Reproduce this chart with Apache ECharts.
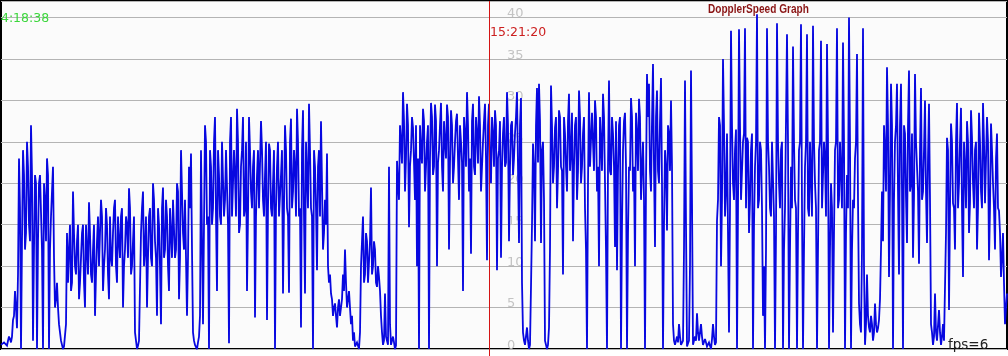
<!DOCTYPE html>
<html>
<head>
<meta charset="utf-8">
<style>
html,body{margin:0;padding:0;background:#ffffff;}
#chart{width:1008px;height:356px;}
</style>
<script src="https://cdn.jsdelivr.net/npm/echarts@6/dist/echarts.min.js"></script>
</head>
<body>
<div id="chart"></div>
<script>
// Doppler speed trace, one value per pixel column.
// "peak" values: needles / extremes at even columns; "band" values: edges of the dense band at odd columns.
const peakA = [
  0.5,0.3,1,0.4,1.5,0.8,3.5,7,2.5,23,
  0,24,12,25,15,27,1,21,0,20,
  21,0,18,23,0,16,22,5,8,3,
  1,0,0.5,14,12,7,19,10,13,6,
  11,15,5,12,17.7,9,12,4,13,10,
  18,7,12,15,6,11,14,18,8,13,
  16,5,12,15,19.4,9,13,2,0,1,
  14,19,12,5,16,11,20,13,4,15,
  3,19.5,12,16,7,14,18,11,20,6,
  24,14,18,4,22,23.6,2,0.5,0,1.5
];
const peakB = [
  24,3,27,15,0,22,17,28,7,21,
  15,25,18,24,0.7,28,16,21,29,14,
  22,28,17,7,28,19,22,3.8,21,17,
  27.5,18,21,3.5,24.8,17,20,0,22,16,
  21,6.7,27,17,6.8,27.8,19,22,29,16,
  2.6,28.8,6.7,21,29.6,17,0,22,9.5,24,
  27.5,12,18,23.6,8,6.7,4,5.5,2.6,6,
  4,9,12,5,7,3,1,0.3,0.8,0,
  10,16,9,13,8,19.5,10,12,7.5,8.7,
  4,0.5,6.7,1,22,0.5,1.5,0,22.7,18
];
const peakC = [
  25,31,19,29.6,14.7,24,26.7,18,10,0,
  24,29,19,25,0,29.7,21,29.5,10,24,
  29.7,19,25,29.5,12,28.8,20,25,28.4,18,
  25,7,26,31,19,11.5,29.6,21,26,30.5,
  19,25,29.6,10.7,29.6,20,26,28.8,9.5,24,
  11,26,22,31,13,27,21,26,31,12.8,
  30.3,2,0.5,2.6,0,7.5,24.8,13,31.5,32,
  12.8,25,1,0,2.6,31.8,20,26.7,17,28.8,
  22,9,26,19,30.8,24,13,27,18,31.2,
  20,26,17,0,31,22,25,30,19,10
];
const peakD = [
  25,30.8,20,0,32.4,21,26,12.3,9.5,27,
  0,24,28.5,0,22,30.3,19,10,26,30.2,
  18,25,0,33.2,32,19,34.4,12.3,31.2,20,
  32.7,0,24,14.3,26,30,3,0.5,1.5,3,
  0.5,1,32.4,0.3,1,33.6,0.5,1.5,4.3,1,
  3,0.5,1.2,0.3,0.8,0,3,0.5,15.5,28,
  10,35,16,26,2,38.4,20,24,0,38.6,
  18,25,38.7,25.5,14,24,0,22,40.4,18,
  24,4,0,38.7,22,16,25,0,39.3,20,
  24,0,17,38,0,22,36.5,18,0,24
];
const peakE = [
  39.2,0,22,38,16,25,39,20,0,24,
  37.2,17,23,36.8,0,20,2,24,38.7,18,
  25,37,0,21,40,0,18,23,35.6,5.5,
  2,38.7,0.5,9,2.6,4,1,5.5,2,3.5,
  12,13,24,34,8.7,32,0,25,32,9,
  32,0,26,12.8,33.6,20,11,33.2,22,10.3,
  31.5,19,30,12.8,29.6,3,0.5,6.7,1,4.7,
  0.5,3,1,25.5,4.7,27.2,17.6,12,29.7,20,
  29.1,8.7,22,27.5,14,28.8,20,24,12,28.5,
  19,29.7,17.6,28,10.7,27.2,20,12,26,16.7,
  8.7,14,3,6.7
];
const bandA = [
  0.4,0.8,0.6,1,1.2,1.5,4,5,9,17,
  13,21,14,22,13,21,12,20,13,21,
  12,20,13,21,12,19,11,6,5,2,
  0.5,0.3,3,8,15,8,14,9,15,8,
  14,8,15,9,14,8,15,9,16,10,
  16,10,17,9,16,10,17,10,16,11,
  17,10,16,11,17,10,16,1,0.4,1,
  17,10,16,11,17,10,18,11,17,10,
  17,11,18,10,17,11,18,12,19,11,
  19,12,18,11,17,12,1,0.5,0.8,4
];
const bandB = [
  24,15,25,16,24,15,25,16,24,16,
  25,16,24,15,25,16,24,16,25,15,
  24,16,25,16,24,17,24,16,24,17,
  24,16,25,17,24,16,24,17,25,16,
  24,17,24,16,25,17,24,16,25,17,
  24,16,25,17,24,16,24,17,22,16,
  20,14,15,10,9,6,5,4,5,4,
  6,7,8,6,5,4,2,0.5,0.4,2,
  13,8,14,8,13,9,13,8,10,7,
  2,1,1.5,0.5,3,0.5,0.8,0.4,20,27
];
const bandC = [
  22.4,27.5,23,27,22,28,22.5,27,23,27,
  22.4,27.5,22,27,23,28,22,27.5,22.5,27,
  22,27.5,23,28,22.4,27,22,27.5,23,27,
  22.5,28,22,27,23,27.5,22,28,22.4,27,
  22,27.5,23,27,22.4,28,22,27,23,27.5,
  22,28,22.5,27,22,27.5,23,28,22,27,
  8,1,0.5,1,0.5,15,22,27,22.5,27.5,
  24,18,1,0.5,12,27,22,28,21.5,28,
  21.5,28,22,27.5,21.5,28.5,22,28,21.5,28,
  22,28,12,20,22,28.5,21.5,28,22,28
];
const bandD = [
  21.5,28,12,22,21.5,28,22,27.5,21.5,28,
  15,27.5,22,14,21.5,28,22,28.5,21.5,28,
  22,18,20,28,21.5,27.5,22,28,21.5,27.5,
  20,15,22,27,21.5,22,1,0.4,0.8,1.5,
  0.6,12,15,0.4,10,18,0.6,1,2,0.8,
  1.5,0.6,0.8,0.5,0.4,1.2,1.5,0.8,18,27,
  18,27,19,26,17,27,18,26.5,17,27,
  18,26,17,25,18,26,15,25,17,25,
  17,10,12,25,17,25,16,14,25,17,
  25,12,17,25,12,17,25,17,14,25
];
const bandE = [
  17,12,25,17,25,16,25,17,12,25,
  17,25,16,25,12,17,14,25,17,25,
  17,25,14,17,25,12,17,25,18,3,
  12,10,3,4,2,3,2,3,2.5,6,
  19,27,19,27,19,27,18,27,19,27,
  19,27,18.3,27,19,26,18.3,25,19,24,
  18,24,19,23,18,2,1.5,2,1,2,
  1.5,1,14,24,17,25,17,25,17,25,
  17,25,17,25,17.6,25.5,17,25,17,25,
  17,25,17.6,25,17,24,17,23,17,14,
  11,8,5
];
const yTicks = [0, 5, 10, 15, 20, 25, 30, 35, 40];
const yMax = 42;
const markerIndex = 488;          // column of the red cursor
const startTime = '04:18:38';
const cursorTime = '15:21:20';
const chartTitle = 'DopplerSpeed Graph';
const fpsLabel = 'fps=6';

const peaks = [].concat(peakA, peakB, peakC, peakD, peakE);
const bands = [].concat(bandA, bandB, bandC, bandD, bandE);
const speed = [];
for (let i = 0; i < peaks.length; i++) {
  speed.push(peaks[i]);
  if (i < bands.length) speed.push(bands[i]);
}
const n = speed.length;

const chart = echarts.init(document.getElementById('chart'), null, {renderer: 'canvas'});
chart.setOption({
  animation: false,
  backgroundColor: '#ffffff',
  grid: [
    {left: 1, right: 1, top: 1, bottom: 7, show: true, backgroundColor: '#fbfbfb',
     borderColor: '#000000', borderWidth: 2},
    {left: 1, right: 1, top: 349, bottom: 0, show: false}
  ],
  xAxis: [
    {gridIndex: 0, type: 'value', min: 0, max: n - 1, show: false},
    {gridIndex: 1, type: 'value', min: 0, max: n - 1, show: false}
  ],
  yAxis: [
    {gridIndex: 0, type: 'value', min: 0, max: yMax, interval: 5,
     position: 'left', offset: -505,
     axisLine: {show: false}, axisTick: {show: false},
     splitLine: {show: true, lineStyle: {color: '#b4b4b4', width: 1}},
     axisLabel: {inside: true, margin: 1, color: '#c4c4c4', fontSize: 13,
       fontFamily: 'DejaVu Sans', verticalAlign: 'bottom', lineHeight: 7,
       showMaxLabel: false,
       formatter: function (v) { return yTicks.indexOf(v) >= 0 ? String(v) : ''; }}},
    {gridIndex: 1, type: 'value', min: 0, max: 1, show: false}
  ],
  series: [
    {type: 'line', xAxisIndex: 0, yAxisIndex: 0, showSymbol: false, symbol: 'none',
     smooth: false, sampling: 'none',
     data: speed.map(function (v, i) { return [i, v]; }),
     lineStyle: {color: '#0808e0', width: 1.8, join: 'miter', miterLimit: 3},
     itemStyle: {color: '#0808e0'},
     silent: true, z: 3,
     markLine: {silent: true, symbol: 'none', animation: false, label: {show: false},
       lineStyle: {color: '#d41414', width: 1, type: 'solid'},
       data: [{xAxis: markerIndex}]}},
    {type: 'line', xAxisIndex: 1, yAxisIndex: 1, showSymbol: false, symbol: 'none',
     data: [[0, 0.5]], lineStyle: {opacity: 0}, silent: true,
     markLine: {silent: true, symbol: 'none', animation: false, label: {show: false},
       lineStyle: {color: '#d41414', width: 1, type: 'solid'},
       data: [{xAxis: markerIndex}]}}
  ],
  graphic: [
    {type: 'text', left: -7, top: 12, z: 10,
     style: {text: startTime, fill: '#3cd63c', font: '12.5px "DejaVu Sans"'}},
    {type: 'text', left: 490, top: 26, z: 10,
     style: {text: cursorTime, fill: '#cc2020', font: '12.5px "DejaVu Sans"'}},
    {type: 'text', x: 708, y: 4, scaleX: 0.84, z: 2,
     style: {text: chartTitle, fill: '#8a1414', font: 'bold 12px "Liberation Sans"'}},
    {type: 'text', left: 948, top: 338, z: 10,
     style: {text: fpsLabel, fill: '#222222', font: '13.5px "DejaVu Sans"'}}
  ]
});
</script>
</body>
</html>
